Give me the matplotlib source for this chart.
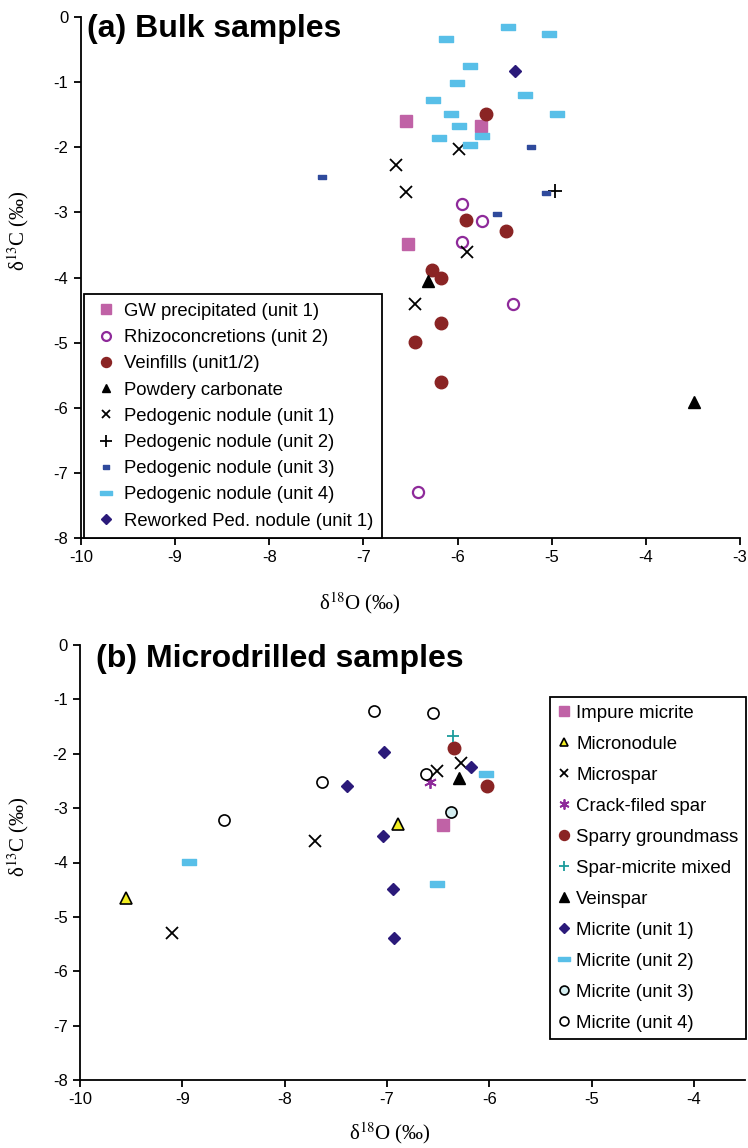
import numpy as np
import matplotlib
matplotlib.use("Agg")
import matplotlib.pyplot as plt

plt.rcParams['font.family'] = ['Liberation Sans', 'DejaVu Sans']
plt.rcParams['mathtext.fontset'] = 'stix'

# ---------------- (a) bulk samples ----------------
gw_x = [-6.55, -5.75, -6.53]
gw_y = [-1.59, -1.67, -3.48]

rhizo_x = [-5.95, -5.74, -5.95, -5.41, -6.42]
rhizo_y = [-2.87, -3.13, -3.46, -4.40, -7.30]

vein_x = [-5.70, -5.91, -5.49, -6.27, -6.18, -6.18, -6.45, -6.18]
vein_y = [-1.49, -3.11, -3.29, -3.89, -4.00, -4.70, -4.99, -5.60]

powdery_x = [-6.31, -3.49]
powdery_y = [-4.05, -5.91]

ped1_x = [-5.98, -6.65, -6.55, -5.90, -6.45]
ped1_y = [-2.02, -2.27, -2.69, -3.61, -4.40]

ped2_x = [-4.97]
ped2_y = [-2.67]

ped3_x = [-7.44, -5.22, -5.06, -5.58]
ped3_y = [-2.46, -1.99, -2.71, -3.03]

ped4_x = [-5.46, -5.03, -6.12, -5.87, -6.01, -6.26, -6.07, -5.28, -4.94, -5.99, -5.74, -6.20, -5.87]
ped4_y = [-0.15, -0.26, -0.34, -0.75, -1.01, -1.27, -1.49, -1.20, -1.49, -1.67, -1.83, -1.86, -1.96]

rew_x = [-5.39]
rew_y = [-0.83]

# ---------------- (b) microdrilled samples ----------------
impure_x = [-6.45]
impure_y = [-3.31]

micronod_x = [-6.89, -9.55]
micronod_y = [-3.29, -4.65]

microspar_x = [-6.51, -6.28, -7.70, -9.10]
microspar_y = [-2.32, -2.17, -3.60, -5.29]

crack_x = [-6.58]
crack_y = [-2.52]

sparry_x = [-6.34, -6.02]
sparry_y = [-1.90, -2.59]

sparmix_x = [-6.35]
sparmix_y = [-1.67]

veinspar_x = [-6.30]
veinspar_y = [-2.44]

mic1_x = [-7.03, -7.39, -6.18, -7.04, -6.94, -6.93]
mic1_y = [-1.96, -2.59, -2.25, -3.51, -4.48, -5.39]

mic2_x = [-6.03, -6.51, -8.93]
mic2_y = [-2.37, -4.39, -3.99]

mic3_x = [-6.37]
mic3_y = [-3.07]

mic4_x = [-7.13, -6.55, -6.62, -7.63, -8.59]
mic4_y = [-1.21, -1.25, -2.38, -2.52, -3.22]

PINK = '#C062A6'
PURPLE = '#8E2A9A'
DRED = '#8A2424'
DBLUE = '#2F4A9C'
LBLUE = '#58BFE8'
INDIGO = '#2B1A7A'

dash_wide = [(-1, -0.4), (1, -0.4), (1, 0.4), (-1, 0.4), (-1, -0.4)]
dash_small = [(-1, -0.5), (1, -0.5), (1, 0.5), (-1, 0.5), (-1, -0.5)]

fig = plt.figure(figsize=(7.48, 11.48), dpi=100)
ax1 = fig.add_axes([81 / 748, 1 - 538 / 1148, 659 / 748, 521 / 1148])
ax2 = fig.add_axes([80 / 748, 1 - 1080 / 1148, 665 / 748, 435 / 1148])


def style_axis(ax, xmax, xticks):
    ax.set_xlim(-10, xmax)
    ax.set_ylim(-8, 0)
    ax.set_xticks(xticks)
    ax.set_yticks(np.arange(-8, 1, 1))
    ax.set_xticklabels([f"{t:g}" for t in xticks])
    ax.set_yticklabels([f"{t:g}" for t in range(-8, 1)])
    for s in ['top', 'right']:
        ax.spines[s].set_visible(False)
    for s in ['left', 'bottom']:
        ax.spines[s].set_linewidth(1.3)
    ax.tick_params(direction='out', length=5, width=1.3, labelsize=12, pad=4)


kw = dict(linestyle='none')

# panel a
ax1.plot(gw_x, gw_y, marker='s', ms=8.5, color=PINK, label='GW precipitated (unit 1)', **kw)
ax1.plot(rhizo_x, rhizo_y, marker='o', ms=8, mfc='white', mec=PURPLE, mew=1.6,
         label='Rhizoconcretions (unit 2)', **kw)
ax1.plot(vein_x, vein_y, marker='o', ms=9, color=DRED, label='Veinfills (unit1/2)', **kw)
ax1.plot(powdery_x, powdery_y, marker='^', ms=8, color='black', label='Powdery carbonate', **kw)
ax1.plot(ped1_x, ped1_y, marker='x', ms=8, mew=1.3, color='black', label='Pedogenic nodule (unit 1)', **kw)
ax1.plot(ped2_x, ped2_y, marker='+', ms=10, mew=1.3, color='black', label='Pedogenic nodule (unit 2)', **kw)
ax1.plot(ped3_x, ped3_y, marker=dash_small, ms=6, color=DBLUE, label='Pedogenic nodule (unit 3)', **kw)
ax1.plot(ped4_x, ped4_y, marker=dash_wide, ms=10, color=LBLUE, label='Pedogenic nodule (unit 4)', **kw)
ax1.plot(rew_x, rew_y, marker='D', ms=6, color=INDIGO, label='Reworked Ped. nodule (unit 1)', **kw)

style_axis(ax1, -3, list(range(-10, -2)))
ax1.text(0.009, 0.962, '(a) Bulk samples', transform=ax1.transAxes, fontsize=23,
         fontweight='bold', va='baseline', ha='left')

leg1 = ax1.legend(loc='lower left', bbox_to_anchor=(0.004, 0.0), borderaxespad=0,
                  fontsize=13.3, markerscale=0.8, handlelength=1.5, handletextpad=0.25,
                  labelspacing=0.5, borderpad=0.45, fancybox=False, framealpha=1,
                  edgecolor='black')
leg1.get_frame().set_linewidth(1.3)

# panel b
ax2.plot(impure_x, impure_y, marker='s', ms=8.5, color=PINK, label='Impure micrite', **kw)
ax2.plot(micronod_x, micronod_y, marker='^', ms=8, mfc='#F2EE22', mec='black', mew=1.2,
         label='Micronodule', **kw)
ax2.plot(microspar_x, microspar_y, marker='x', ms=8, mew=1.3, color='black', label='Microspar', **kw)
ax2.plot(crack_x, crack_y, marker=(6, 2, 0), ms=9, mew=1.3, color=PURPLE, label='Crack-filed spar', **kw)
ax2.plot(sparry_x, sparry_y, marker='o', ms=9, color=DRED, label='Sparry groundmass', **kw)
ax2.plot(sparmix_x, sparmix_y, marker='+', ms=9, mew=1.3, color='#1C9C9C', label='Spar-micrite mixed', **kw)
ax2.plot(veinspar_x, veinspar_y, marker='^', ms=8.5, color='black', label='Veinspar', **kw)
ax2.plot(mic1_x, mic1_y, marker='D', ms=6, color=INDIGO, label='Micrite (unit 1)', **kw)
ax2.plot(mic2_x, mic2_y, marker=dash_wide, ms=10, color=LBLUE, label='Micrite (unit 2)', **kw)
ax2.plot(mic3_x, mic3_y, marker='o', ms=8, mfc='#D4EEF0', mec='black', mew=1.2, label='Micrite (unit 3)', **kw)
ax2.plot(mic4_x, mic4_y, marker='o', ms=8, mfc='white', mec='black', mew=1.2, label='Micrite (unit 4)', **kw)

style_axis(ax2, -3.5, list(range(-10, -3)))
ax2.text(0.024, 0.949, '(b) Microdrilled samples', transform=ax2.transAxes, fontsize=23,
         fontweight='bold', va='baseline', ha='left')

leg2 = ax2.legend(loc='upper right', bbox_to_anchor=(1.0015, 0.880), borderaxespad=0,
                  fontsize=13.4, markerscale=0.8, handlelength=0.7, handletextpad=0.3,
                  labelspacing=0.75, borderpad=0.4, fancybox=False, framealpha=1,
                  edgecolor='black')
leg2.get_frame().set_linewidth(1.3)

for ax, xl, yl in [(ax1, (0.423, -0.10), (-0.076, 0.59)), (ax2, (0.466, -0.092), (-0.074, 0.56))]:
    ax.set_xlabel('δ$^{18}$O (‰)', fontsize=15, family='Liberation Serif')
    ax.set_ylabel('δ$^{13}$C (‰)', fontsize=15, family='Liberation Serif')
    ax.xaxis.set_label_coords(*xl)
    ax.yaxis.set_label_coords(*yl)

fig.savefig('out.png', dpi=100)
